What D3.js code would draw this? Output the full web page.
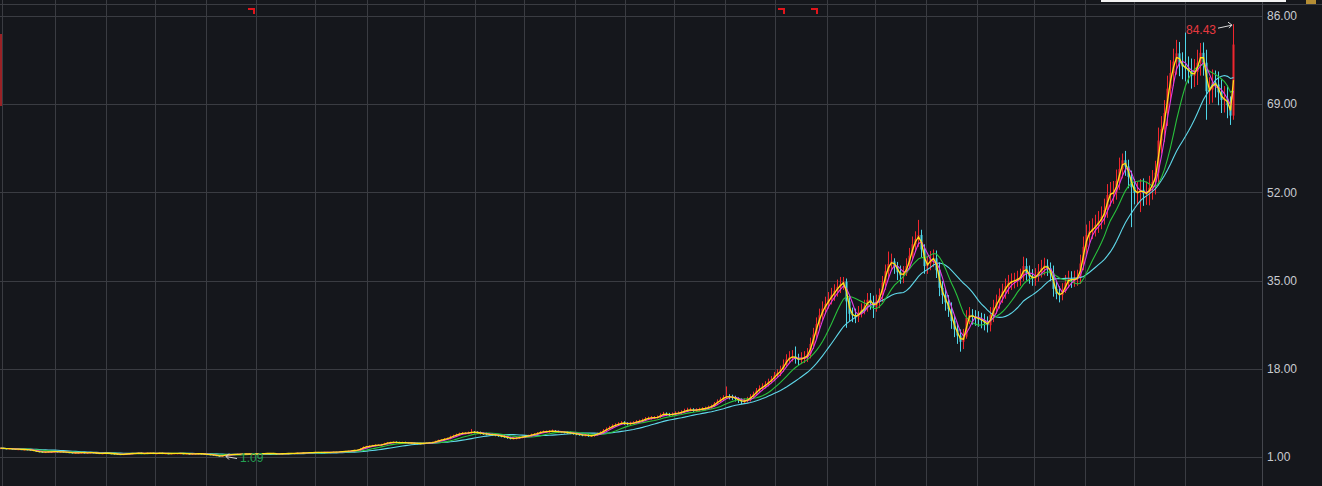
<!DOCTYPE html>
<html>
<head>
<meta charset="utf-8">
<script src="https://cdn.jsdelivr.net/npm/d3@7"></script>
<style>
  html, body { margin: 0; padding: 0; background: #15171c; overflow: hidden; }
  svg { display: block; }
</style>
</head>
<body>
<svg id="chart" width="1322" height="486"></svg>
<script>
// closes, sampled every 3px across the picture
const close = [
  2.70,2.65,2.60,2.60,2.55,2.50,2.50,2.45,2.45,2.40,
  2.35,2.20,2.10,2.00,1.95,1.95,2.00,2.00,2.05,2.00,
  2.00,1.95,1.90,1.85,1.80,1.80,1.80,1.85,1.80,1.80,
  1.85,1.80,1.75,1.70,1.70,1.75,1.70,1.65,1.60,1.55,
  1.50,1.55,1.60,1.65,1.70,1.70,1.75,1.70,1.70,1.75,
  1.75,1.70,1.70,1.75,1.70,1.70,1.65,1.70,1.70,1.70,
  1.70,1.65,1.65,1.60,1.60,1.60,1.65,1.60,1.55,1.50,
  1.45,1.35,1.25,1.15,1.30,1.40,1.45,1.50,1.50,1.55,
  1.55,1.60,1.60,1.55,1.55,1.60,1.60,1.65,1.65,1.70,
  1.70,1.65,1.60,1.60,1.65,1.65,1.70,1.70,1.70,1.75,
  1.75,1.80,1.80,1.85,1.85,1.90,1.90,1.85,1.90,1.90,
  1.90,1.95,1.95,2.00,2.05,2.10,2.15,2.20,2.30,2.35,
  2.60,2.90,3.00,3.10,3.20,3.30,3.30,3.40,3.60,3.75,
  3.80,3.85,3.80,3.75,3.80,3.75,3.70,3.70,3.65,3.60,
  3.60,3.65,3.70,3.75,3.80,4.00,4.20,4.30,4.50,4.60,
  4.90,5.10,5.30,5.50,5.60,5.60,5.70,5.80,5.75,5.70,
  5.55,5.50,5.40,5.35,5.30,5.20,5.10,5.00,4.90,4.70,
  4.60,4.60,4.70,4.80,4.90,5.00,5.10,5.30,5.40,5.60,
  5.80,5.90,5.90,6.00,6.00,5.90,5.85,5.80,5.75,5.70,
  5.60,5.50,5.40,5.30,5.20,5.20,5.10,5.10,5.30,5.50,
  5.70,6.10,6.40,6.70,7.00,7.20,7.40,7.60,7.50,7.40,
  7.50,7.60,7.80,7.90,8.10,8.40,8.50,8.60,8.60,8.70,
  9.10,9.30,9.20,9.10,9.30,9.40,9.50,9.70,9.90,10.1,
  10.1,10.0,10.1,10.2,10.3,10.4,10.6,10.8,11.3,11.7,
  12.1,12.5,12.7,12.6,12.5,12.2,11.9,11.7,11.8,12.1,
  12.6,13.1,13.8,14.2,14.6,15.0,15.5,16.0,16.7,17.2,
  17.8,18.8,19.8,20.2,20.4,20.0,19.7,20.1,20.2,20.8,
  22.8,24.6,26.6,28.3,29.6,30.5,31.4,32.2,33.0,33.8,
  34.3,34.8,31.0,28.6,28.3,28.0,28.8,29.3,30.0,31.3,
  30.8,30.0,31.0,32.2,34.6,36.8,38.2,38.7,37.8,36.6,
  36.0,36.4,37.8,39.8,42.0,43.0,43.8,41.0,37.8,38.3,
  39.2,39.3,37.0,33.6,32.2,30.8,29.5,27.2,25.6,24.4,
  23.2,24.2,27.8,28.4,28.0,27.8,27.6,27.3,26.9,26.4,
  28.4,29.8,30.8,32.0,32.9,33.9,34.6,34.9,35.0,35.4,
  35.8,37.8,36.4,35.8,35.4,35.9,36.7,37.4,37.9,37.4,
  36.4,33.4,32.4,32.2,33.0,34.6,35.4,35.0,35.4,35.6,
  38.3,41.5,43.8,44.5,45.0,45.7,46.4,47.3,48.6,51.5,
  51.8,52.0,54.2,56.5,58.2,57.0,55.0,53.0,51.9,52.0,
  52.5,51.8,51.8,52.9,54.0,55.8,62.0,64.2,67.3,72.0,
  75.0,77.2,78.8,76.8,76.3,75.9,75.4,74.5,75.2,77.0,
  78.9,77.0,71.5,71.8,73.2,72.8,71.3,69.8,70.1,68.8,
  66.8,80.5
];

const high = [
  2.80,2.78,2.72,2.68,2.68,2.62,2.58,2.58,2.53,2.53,
  2.48,2.43,2.28,2.18,2.08,2.03,2.08,2.08,2.13,2.13,
  2.08,2.08,2.03,1.98,1.93,1.88,1.88,1.93,1.93,1.88,
  1.93,1.93,1.88,1.83,1.78,1.83,1.83,1.78,1.73,1.68,
  1.63,1.63,1.68,1.73,1.78,1.78,1.83,1.83,1.78,1.83,
  1.83,1.83,1.78,1.83,1.83,1.78,1.78,1.78,1.78,1.78,
  1.78,1.78,1.73,1.73,1.68,1.68,1.73,1.73,1.68,1.63,
  1.58,1.53,1.43,1.33,1.38,1.48,1.53,1.58,1.58,1.63,
  1.63,1.68,1.68,1.68,1.63,1.68,1.68,1.73,1.73,1.78,
  1.78,1.78,1.73,1.68,1.73,1.73,1.78,1.78,1.78,1.83,
  1.83,1.88,1.88,1.93,1.93,1.98,1.98,1.98,1.98,1.98,
  1.98,2.03,2.03,2.08,2.13,2.18,2.23,2.28,2.38,2.43,
  2.75,3.05,3.15,3.25,3.35,3.45,3.45,3.55,3.75,3.90,
  3.95,4.00,4.00,3.95,3.95,3.95,3.90,3.85,3.85,3.80,
  3.75,3.80,3.85,3.90,3.95,4.15,4.35,4.45,4.65,4.75,
  5.10,5.30,5.50,5.70,5.80,5.80,5.90,6.40,6.00,5.95,
  5.90,5.75,5.70,5.60,5.55,5.50,5.40,5.30,5.20,5.10,
  4.90,4.80,4.90,5.00,5.10,5.20,5.30,5.50,5.60,5.80,
  6.00,6.10,6.10,6.20,6.30,6.20,6.10,6.00,6.00,5.95,
  5.90,5.80,5.70,5.60,5.50,5.40,5.40,5.30,5.50,5.70,
  5.95,6.40,6.70,7.00,7.30,7.50,7.70,7.90,7.90,7.70,
  7.80,7.90,8.10,8.20,8.40,8.70,8.80,8.90,8.90,9.00,
  9.40,9.70,9.60,9.50,9.60,9.80,9.80,10.0,10.3,10.5,
  10.5,10.4,10.4,10.5,10.6,10.7,10.9,11.1,11.6,12.1,
  12.5,12.9,14.6,13.1,13.0,12.8,12.5,12.3,12.3,12.6,
  13.1,13.6,14.3,14.8,15.2,15.6,16.1,16.6,17.4,17.9,
  18.6,19.8,20.8,21.4,21.6,22.3,20.9,21.2,21.4,22.0,
  24.0,25.9,27.9,29.6,31.0,31.9,32.8,33.6,34.3,35.2,
  35.7,35.7,35.4,31.8,29.8,29.6,30.1,30.6,31.3,32.6,
  32.6,32.1,32.3,33.5,35.9,38.1,40.6,40.2,39.3,38.6,
  37.9,37.8,39.3,41.3,43.5,44.5,46.7,44.8,42.0,39.8,
  40.7,41.0,40.8,38.5,34.9,33.5,32.2,30.8,28.4,26.8,
  25.6,25.7,29.3,29.9,29.5,29.3,29.1,28.8,28.6,28.1,
  29.9,31.3,32.3,33.5,34.4,35.4,36.1,36.4,36.5,36.9,
  37.3,39.6,39.3,37.9,37.2,37.4,38.2,39.0,39.4,39.1,
  38.5,37.9,34.9,33.9,34.5,36.1,36.9,36.8,36.9,37.1,
  40.0,43.5,45.8,46.5,47.0,47.7,48.4,49.3,50.8,53.6,
  54.0,54.2,56.4,58.7,59.5,60.0,58.3,56.2,54.6,54.0,
  54.6,54.7,54.1,55.2,56.3,58.1,64.5,66.7,69.8,74.5,
  77.5,79.7,81.4,81.0,79.0,82.8,78.2,77.8,77.7,79.5,
  80.8,80.9,79.5,74.2,75.7,75.5,75.3,73.8,72.5,72.6,
  70.5,84.43
];

const low = [
  2.60,2.57,2.52,2.52,2.47,2.42,2.42,2.37,2.37,2.32,
  2.27,2.12,2.02,1.92,1.87,1.87,1.87,1.92,1.92,1.92,
  1.92,1.87,1.82,1.77,1.72,1.72,1.72,1.72,1.72,1.72,
  1.72,1.72,1.67,1.62,1.62,1.62,1.62,1.57,1.52,1.47,
  1.42,1.42,1.47,1.52,1.57,1.62,1.62,1.62,1.62,1.62,
  1.67,1.62,1.62,1.62,1.62,1.62,1.57,1.57,1.62,1.62,
  1.62,1.57,1.57,1.52,1.52,1.52,1.52,1.52,1.47,1.42,
  1.37,1.27,1.17,1.09,1.10,1.22,1.32,1.37,1.42,1.42,
  1.47,1.47,1.52,1.47,1.47,1.47,1.52,1.52,1.57,1.57,
  1.62,1.57,1.52,1.52,1.52,1.57,1.57,1.62,1.62,1.62,
  1.67,1.67,1.72,1.72,1.77,1.77,1.82,1.77,1.77,1.82,
  1.82,1.82,1.87,1.87,1.92,1.97,2.02,2.07,2.12,2.22,
  2.20,2.45,2.75,2.85,2.95,3.05,3.15,3.15,3.25,3.45,
  3.60,3.65,3.65,3.60,3.60,3.60,3.55,3.55,3.50,3.45,
  3.45,3.45,3.50,3.55,3.60,3.65,3.85,4.05,4.15,4.35,
  4.40,4.70,4.90,5.10,5.30,5.40,5.40,5.50,5.55,5.50,
  5.35,5.30,5.20,5.15,5.10,5.00,4.90,4.80,4.70,4.50,
  4.40,4.40,4.40,4.50,4.60,4.70,4.80,4.90,5.10,5.20,
  5.40,5.60,5.70,5.70,5.80,5.70,5.65,5.60,5.55,5.50,
  5.40,5.30,5.20,5.10,5.00,5.00,4.90,4.90,4.90,5.10,
  5.30,5.50,5.90,6.20,6.50,6.80,7.00,7.20,7.20,7.10,
  7.10,7.30,7.40,7.60,7.70,7.90,8.10,8.20,8.30,8.40,
  8.50,8.90,8.90,8.80,8.90,9.10,9.20,9.30,9.50,9.70,
  9.80,9.70,9.70,9.80,9.90,10.0,10.1,10.3,10.6,11.0,
  11.4,11.8,12.2,12.1,12.0,11.7,11.4,11.2,11.3,11.5,
  11.7,12.3,12.8,13.4,13.8,14.2,14.6,15.2,15.6,16.3,
  16.6,17.4,18.3,19.1,19.4,19.0,18.7,18.9,19.1,19.3,
  20.0,21.8,23.6,25.6,27.3,28.6,29.6,30.4,31.1,31.9,
  32.6,33.2,25.9,27.2,27.0,26.8,27.0,27.9,28.5,29.0,
  29.4,27.8,29.0,29.7,30.9,33.2,35.4,36.8,36.3,35.1,
  34.4,34.5,35.9,37.3,39.0,40.5,41.5,39.5,36.3,36.3,
  37.0,37.6,35.5,32.0,30.5,29.2,28.0,25.7,24.1,22.8,
  21.3,21.8,23.8,26.6,26.5,26.3,26.1,25.8,25.4,25.0,
  25.2,27.0,28.6,29.6,30.7,31.5,32.4,33.2,33.5,33.8,
  34.0,34.9,35.0,34.4,34.0,34.0,34.8,35.6,36.0,35.9,
  34.9,31.9,31.4,30.8,31.2,32.6,33.6,33.6,33.8,34.0,
  34.4,37.0,40.0,42.3,43.0,43.5,44.2,44.9,45.8,47.1,
  49.3,49.8,50.6,52.5,54.7,55.2,52.8,45.3,49.7,49.6,
  48.2,49.4,49.6,49.5,50.6,51.6,53.3,59.5,61.7,64.8,
  69.5,72.5,74.7,74.4,73.8,73.4,73.0,72.0,72.3,72.7,
  74.5,74.5,66.0,69.0,69.3,70.3,68.8,67.3,67.4,66.3,
  65.0,66.0
];

const priceTicks = [1, 18, 35, 52, 69, 86];
// year boundaries, in sample units
const yearBreaks = [0.5, 18.3, 35.3, 51.7, 68.5, 85.3, 105, 122.2, 141.3, 158.5, 174.7, 191.7,
  208.3, 224.8, 241.7, 258.5, 275.5, 291.8, 308.5, 325.5, 344.7, 361.7, 378, 395];
// small red flags along the top
const eventMarks = [84, 260.7, 271.8];

const maWindows = [20, 10, 4, 2];
const maColors = ["#5fd8ea", "#29c23c", "#e23ce6", "#ffe11a"];

const W = 1322, H = 486;
const axisX = 1262;

const svg = d3.select("#chart");

const x = d3.scaleLinear().domain([0, close.length - 1]).range([0, 1233]);
const y = d3.scaleLinear().domain([1, 86]).range([457, 16]);

const grid = "#3a3c42";

// grid
svg.append("g")
  .selectAll("line")
  .data(yearBreaks)
  .enter()
  .append("line")
  .attr("x1", d => Math.round(x(d)) + 0.5)
  .attr("x2", d => Math.round(x(d)) + 0.5)
  .attr("y1", 0)
  .attr("y2", H)
  .attr("stroke", grid);

svg.append("g")
  .selectAll("line")
  .data(priceTicks)
  .enter()
  .append("line")
  .attr("x1", 0)
  .attr("x2", axisX)
  .attr("y1", d => Math.round(y(d)) + 0.5)
  .attr("y2", d => Math.round(y(d)) + 0.5)
  .attr("stroke", grid);

svg.append("line")
  .attr("x1", 0).attr("x2", W)
  .attr("y1", 4.5).attr("y2", 4.5)
  .attr("stroke", grid);

svg.append("line")
  .attr("x1", axisX + 0.5).attr("x2", axisX + 0.5)
  .attr("y1", 0).attr("y2", H)
  .attr("stroke", "#44464d");

// price labels
svg.append("g")
  .selectAll("text")
  .data(priceTicks)
  .enter()
  .append("text")
  .attr("x", axisX + 5)
  .attr("y", d => y(d))
  .attr("dy", "0.35em")
  .attr("fill", "#c9cbd0")
  .style("font", "12px Arial, 'Liberation Sans', sans-serif")
  .text(d => d3.format(".2f")(d));

// candles
const candles = close.map((c, i) => {
  const o = i > 0 ? close[i - 1] : c;
  return { i: i, o: o, c: c, h: high[i], l: low[i], up: c >= o };
});

const candleG = svg.append("g");
candles.forEach(d => {
  const cx = Math.round(x(d.i));
  const col = d.up ? "#f0262e" : "#4fd6e8";
  candleG.append("line")
    .attr("x1", cx + 0.5).attr("x2", cx + 0.5)
    .attr("y1", y(d.h)).attr("y2", y(d.l))
    .attr("stroke", col)
    .attr("stroke-width", 1);
  const top = y(Math.max(d.o, d.c));
  const bot = y(Math.min(d.o, d.c));
  candleG.append("rect")
    .attr("x", cx - 0.5)
    .attr("y", top)
    .attr("width", 2)
    .attr("height", Math.max(1, bot - top))
    .attr("fill", col);
});

// moving averages
function movingAverage(win) {
  return close.map((c, i) => d3.mean(close.slice(Math.max(0, i - win + 1), i + 1)));
}

const line = d3.line()
  .x((d, i) => x(i) + 0.5)
  .y(d => y(d));

maWindows.forEach((win, k) => {
  svg.append("path")
    .datum(movingAverage(win))
    .attr("d", line)
    .attr("fill", "none")
    .attr("stroke", maColors[k])
    .attr("stroke-width", k === 3 ? 1.3 : 1.1);
});

// highest / lowest marks
const hiIdx = d3.maxIndex(high);
const loIdx = d3.minIndex(low);

const hx = x(hiIdx), hy = y(high[hiIdx]);
svg.append("text")
  .attr("x", hx - 17)
  .attr("y", hy + 6)
  .attr("dy", "0.35em")
  .attr("text-anchor", "end")
  .attr("fill", "#e8393f")
  .style("font", "12px Arial, 'Liberation Sans', sans-serif")
  .text(high[hiIdx].toFixed(2));
svg.append("path")
  .attr("d", `M${hx - 15},${hy + 4}L${hx - 1},${hy + 1}M${hx - 5},${hy - 2}L${hx - 1},${hy + 1}L${hx - 4},${hy + 4}`)
  .attr("fill", "none")
  .attr("stroke", "#d8d8d8")
  .attr("stroke-width", 1);

const lx = x(loIdx), ly = y(low[loIdx]);
svg.append("path")
  .attr("d", `M${lx + 7},${ly}L${lx + 18},${ly + 2}M${lx + 10},${ly - 3}L${lx + 7},${ly}L${lx + 10},${ly + 3}`)
  .attr("fill", "none")
  .attr("stroke", "#d8d8d8")
  .attr("stroke-width", 1);
svg.append("text")
  .attr("x", lx + 21)
  .attr("y", ly + 1)
  .attr("dy", "0.35em")
  .attr("fill", "#23a052")
  .style("font", "12px Arial, 'Liberation Sans', sans-serif")
  .text(low[loIdx].toFixed(2));

// event flags
svg.append("g")
  .selectAll("path")
  .data(eventMarks)
  .enter()
  .append("path")
  .attr("d", d => {
    const ex = Math.round(x(d));
    return `M${ex - 4},8h7v6h-2v-4h-5z`;
  })
  .attr("fill", "#e0151b");

// bits of the surrounding window
svg.append("rect").attr("x", 0).attr("y", 34).attr("width", 2).attr("height", 72).attr("fill", "#9a2226");
svg.append("rect").attr("x", 1101).attr("y", 0).attr("width", 185).attr("height", 2).attr("fill", "#f2f2f2");
svg.append("rect").attr("x", 1306).attr("y", 0).attr("width", 10).attr("height", 4).attr("fill", "#b48d34");
</script>
</body>
</html>
